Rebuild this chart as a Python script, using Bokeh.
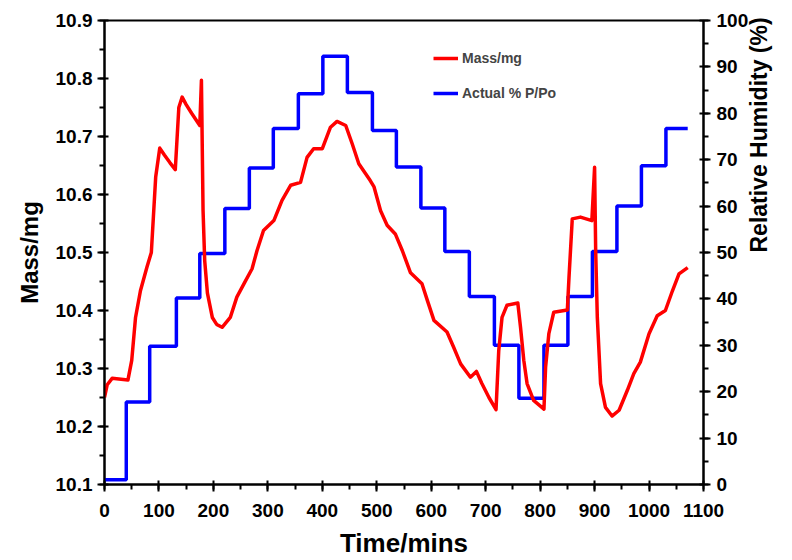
import math
from bokeh.plotting import figure
from bokeh.models import (Range1d, LinearAxis, SingleIntervalTicker, Legend, LegendItem,
                          NumeralTickFormatter)
from bokeh.embed import file_html
from bokeh.resources import INLINE

# Mass curve (time in minutes, mass in mg)
mass_t = [0, 5, 14, 43, 50, 57, 66, 78, 86, 94,
          101.5, 110, 120, 130, 136.5, 142.6, 150, 160, 175, 178,
          181, 184, 189, 198, 206, 216, 231, 243, 256, 271,
          280, 292, 311, 326, 342, 360, 372, 384, 400, 415,
          427, 443, 455, 467, 488, 495, 507, 519, 534, 547,
          562, 583, 593, 605, 629, 641, 654, 672, 683, 693,
          706, 719, 724, 730, 739, 759, 764, 770, 776, 788,
          807, 810, 816, 825, 850, 853, 859, 874, 895, 900,
          902, 905, 911, 920, 932, 945, 960, 972, 984, 1000,
          1015, 1030, 1043, 1055, 1071]
mass_v = [10.25, 10.272, 10.283, 10.28, 10.314, 10.388, 10.434, 10.475, 10.5, 10.63,
          10.68, 10.668, 10.655, 10.643, 10.75, 10.768, 10.755, 10.74, 10.719, 10.797,
          10.572, 10.486, 10.43, 10.388, 10.376, 10.371, 10.388, 10.423, 10.446, 10.472,
          10.503, 10.538, 10.555, 10.59, 10.616, 10.621, 10.664, 10.679, 10.679, 10.716,
          10.726, 10.719, 10.687, 10.653, 10.624, 10.613, 10.572, 10.547, 10.532, 10.503,
          10.465, 10.446, 10.417, 10.383, 10.363, 10.337, 10.308, 10.285, 10.295, 10.274,
          10.25, 10.229, 10.331, 10.388, 10.409, 10.413, 10.371, 10.314, 10.274, 10.245,
          10.23, 10.302, 10.36, 10.397, 10.401, 10.457, 10.558, 10.561, 10.555, 10.647,
          10.503, 10.388, 10.274, 10.233, 10.218, 10.228, 10.262, 10.291, 10.311, 10.36,
          10.391, 10.4, 10.434, 10.463, 10.474]

# Relative humidity steps (start time of each step, level in %)
rh_t = [0, 40, 83, 132, 175, 221, 266, 310, 356, 401, 446, 492, 536,
        581, 625, 670, 716, 761, 807, 851, 896, 941, 986, 1031, 1071]
rh_v = [1, 17.8, 29.8, 40.2, 49.8, 59.5, 68.2, 76.7, 84.2, 92.3, 84.5, 76.3, 68.4,
        59.6, 50.2, 40.5, 30, 18.6, 30, 40.5, 50.2, 60, 68.7, 76.7, 76.7]

x_ticks_interval = 100
FONT = "Liberation Sans"

p = figure(width=792, height=560, output_backend="svg", toolbar_location=None,
           x_range=Range1d(0, 1100), y_range=Range1d(10.1, 10.9),
           min_border_left=104, min_border_right=89, min_border_top=20, min_border_bottom=76)
p.extra_y_ranges = {"rh": Range1d(0, 100)}
p.xgrid.visible = False
p.ygrid.visible = False
p.outline_line_color = "black"
p.outline_line_width = 2
p.background_fill_color = "white"
p.border_fill_color = "white"

rh_r = p.step(rh_t, rh_v, mode="after", y_range_name="rh", line_color="#0000FF", line_width=3.5)
mass_r = p.line(mass_t, mass_v, line_color="#FF0000", line_width=3.5, line_join="round")

def style_axis(ax):
    ax.axis_line_width = 2
    ax.axis_line_color = "black"
    ax.major_tick_line_width = 2
    ax.minor_tick_line_width = 2
    ax.major_tick_in = 4
    ax.major_tick_out = 7
    ax.minor_tick_in = 0
    ax.minor_tick_out = 5
    ax.major_label_text_font = FONT
    ax.major_label_text_font_style = "bold"
    ax.major_label_text_font_size = "19px"
    ax.major_label_text_color = "black"
    ax.axis_label_text_font = FONT
    ax.axis_label_text_font_style = "bold"
    ax.axis_label_text_color = "black"

xa = p.xaxis[0]
xa.ticker = SingleIntervalTicker(interval=x_ticks_interval, num_minor_ticks=2)
xa.axis_label = "Time/mins"
style_axis(xa)
xa.axis_label_text_font_size = "26px"
xa.major_label_standoff = 12
xa.axis_label_standoff = 8

ya = p.yaxis[0]
ya.ticker = SingleIntervalTicker(interval=0.1, num_minor_ticks=2)
ya.formatter = NumeralTickFormatter(format="0.0")
ya.axis_label = "Mass/mg"
style_axis(ya)
ya.axis_label_text_font_size = "24px"
ya.major_label_standoff = 5
ya.axis_label_standoff = 10

ra = LinearAxis(y_range_name="rh", axis_label="Relative Humidity (%)")
ra.ticker = SingleIntervalTicker(interval=10, num_minor_ticks=2)
style_axis(ra)
ra.axis_label_text_font_size = "23px"
ra.axis_label_orientation = math.pi / 2
ra.major_label_standoff = 6
ra.axis_label_standoff = 8
p.add_layout(ra, "right")

legend = Legend(items=[LegendItem(label="Mass/mg", renderers=[mass_r]),
                       LegendItem(label="Actual % P/Po", renderers=[rh_r])],
                location=(329, 381), background_fill_alpha=0, border_line_alpha=0,
                label_text_font=FONT, label_text_font_style="bold", label_text_font_size="14px",
                glyph_width=25, label_standoff=4, spacing=15, label_height=20, glyph_height=20,
                padding=0, margin=0)
p.add_layout(legend)

open("out.html", "w").write(file_html(p, INLINE))
